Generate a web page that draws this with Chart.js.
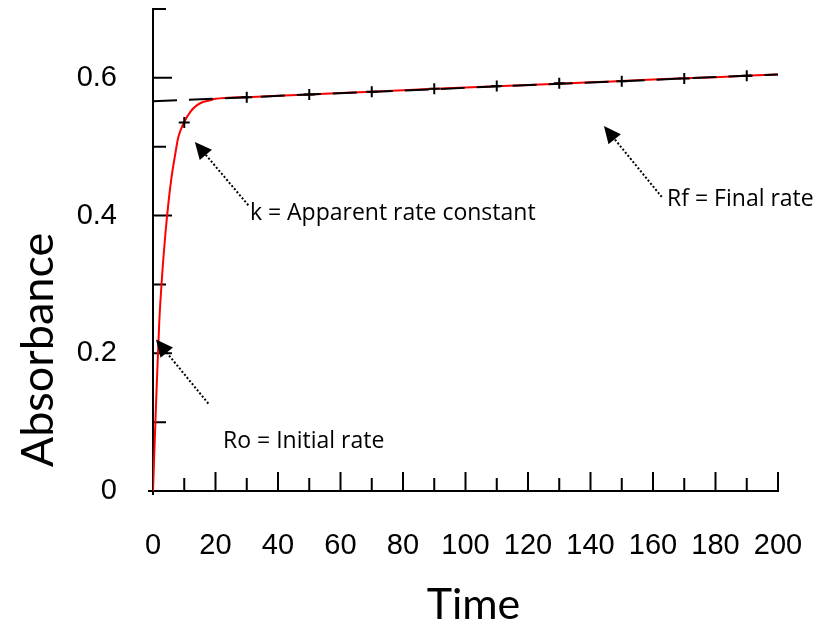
<!DOCTYPE html>
<html>
<head>
<meta charset="utf-8">
<style>
  html, body { margin: 0; padding: 0; background: #ffffff; }
  #wrap { width: 832px; height: 624px; }
</style>
<script src="https://cdn.jsdelivr.net/npm/chart.js@4.4.1/dist/chart.umd.min.js"></script>
</head>
<body>
<div id="wrap"><canvas id="c" width="832" height="624"></canvas></div>
<script>
// ---- Data ----
const curveTime = [0, 1, 2, 3, 4, 5, 6, 7, 8, 9, 10, 12, 14, 16, 18, 20, 24, 30, 40, 60, 80, 100, 120, 140, 160, 180, 200];
const curveAbs  = [0, 0.130, 0.245, 0.318, 0.375, 0.421, 0.458, 0.486, 0.512, 0.526, 0.536, 0.551, 0.560, 0.565, 0.567, 0.5695, 0.571, 0.572, 0.574, 0.578, 0.582, 0.586, 0.5895, 0.5935, 0.5975, 0.601, 0.605];

const markerTime = [10, 30, 50, 70, 90, 110, 130, 150, 170, 190];
const markerAbs  = [0.535, 0.572, 0.576, 0.580, 0.584, 0.588, 0.592, 0.595, 0.599, 0.603];

const finalRateTime = [0, 200];
const finalRateAbs  = [0.566, 0.605];

const xTickLabels = ['0', '20', '40', '60', '80', '100', '120', '140', '160', '180', '200'];
const yTickLabels = ['0', '0.2', '0.4', '0.6'];

const xTitle = 'Time';
const yTitle = 'Absorbance';

const annotationTexts  = ['Ro = Initial rate', 'k = Apparent rate constant', 'Rf = Final rate'];
const annotationTails  = [[17.7, 0.127], [30.5, 0.415], [162.8, 0.427]];
const annotationTips   = [[0.96, 0.220], [13.4, 0.507], [144.3, 0.530]];
const annotationLabels = [[22.4, 0.063], [31.0, 0.393], [164.5, 0.414]];

// ---- Build datasets ----
const toPts = (xs, ys) => xs.map((x, i) => ({ x: x, y: ys[i] }));

const TICK_FONT = { family: "'Liberation Sans', Arial, sans-serif", size: 29 };
const XTITLE_FONT = "43px Lato, 'Open Sans', sans-serif";
const YTITLE_FONT = "45px Lato, 'Open Sans', sans-serif";
const NOTE_FONT = "23px 'Open Sans', Lato, sans-serif";

const axesPlugin = {
  id: 'axesPlugin',
  beforeDatasetsDraw(chart) {
    const ctx = chart.ctx;
    const xs = chart.scales.x, ys = chart.scales.y;
    const x0 = xs.getPixelForValue(0), x1 = xs.getPixelForValue(200);
    const y0 = ys.getPixelForValue(0), y1 = ys.getPixelForValue(0.7);
    ctx.save();
    ctx.strokeStyle = '#000';
    ctx.lineWidth = 2;
    ctx.lineCap = 'butt';
    ctx.beginPath();
    // x axis
    ctx.moveTo(x0 - 5, y0); ctx.lineTo(x1 + 1, y0);
    // y axis
    ctx.moveTo(x0, y0 + 4); ctx.lineTo(x0, y1 - 1);
    // x tick marks (inside, upward)
    for (let i = 1; i <= 20; i++) {
      const px = xs.getPixelForValue(i * 10);
      const len = (i % 2 === 0) ? 19 : 13;
      ctx.moveTo(px, y0); ctx.lineTo(px, y0 - len);
    }
    // y tick marks (inside, rightward)
    for (let j = 1; j <= 7; j++) {
      const py = ys.getPixelForValue(j / 10);
      const len = (j % 2 === 0) ? 19 : 13;
      ctx.moveTo(x0, py); ctx.lineTo(x0 + len, py);
    }
    ctx.stroke();

    // axis titles
    ctx.fillStyle = '#000';
    ctx.textAlign = 'center';
    ctx.textBaseline = 'alphabetic';
    ctx.font = XTITLE_FONT;
    ctx.fillText(xTitle, (x0 + x1) / 2 + 8, 619);
    ctx.save();
    ctx.font = YTITLE_FONT;
    ctx.translate(53, (y0 + y1) / 2 + 100);
    ctx.rotate(-Math.PI / 2);
    ctx.fillText(yTitle, 0, 0);
    ctx.restore();
    ctx.restore();
  },
  afterDatasetsDraw(chart) {
    const ctx = chart.ctx;
    const xs = chart.scales.x, ys = chart.scales.y;
    ctx.save();
    for (let i = 0; i < annotationTexts.length; i++) {
      const tx = xs.getPixelForValue(annotationTails[i][0]);
      const ty = ys.getPixelForValue(annotationTails[i][1]);
      const hx = xs.getPixelForValue(annotationTips[i][0]);
      const hy = ys.getPixelForValue(annotationTips[i][1]);
      const ang = Math.atan2(hy - ty, hx - tx);
      const headLen = 17, headHalf = 8;
      const bx = hx - headLen * Math.cos(ang), by = hy - headLen * Math.sin(ang);
      // dotted shaft
      ctx.strokeStyle = '#000';
      ctx.lineWidth = 2;
      ctx.setLineDash([2, 2]);
      ctx.beginPath();
      ctx.moveTo(tx, ty); ctx.lineTo(bx, by);
      ctx.stroke();
      ctx.setLineDash([]);
      // head
      ctx.fillStyle = '#000';
      ctx.beginPath();
      ctx.moveTo(hx, hy);
      ctx.lineTo(bx + headHalf * Math.sin(ang), by - headHalf * Math.cos(ang));
      ctx.lineTo(bx - headHalf * Math.sin(ang), by + headHalf * Math.cos(ang));
      ctx.closePath();
      ctx.fill();
      // label
      ctx.font = NOTE_FONT;
      ctx.textAlign = 'left';
      ctx.textBaseline = 'alphabetic';
      ctx.fillText(annotationTexts[i],
        xs.getPixelForValue(annotationLabels[i][0]),
        ys.getPixelForValue(annotationLabels[i][1]));
    }
    ctx.restore();
  }
};

new Chart(document.getElementById('c'), {
  type: 'scatter',
  data: {
    datasets: [
      {
        label: 'Markers',
        data: toPts(markerTime, markerAbs),
        pointStyle: 'cross',
        pointRadius: 5.5,
        pointBorderWidth: 2,
        borderColor: '#000',
        backgroundColor: '#000',
        showLine: false,
        order: 0
      },
      {
        label: 'Final rate',
        data: toPts(finalRateTime, finalRateAbs),
        showLine: true,
        pointRadius: 0,
        borderColor: '#000',
        borderWidth: 2,
        borderDash: [24, 12],
        order: 1
      },
      {
        label: 'Absorbance',
        data: toPts(curveTime, curveAbs),
        showLine: true,
        pointRadius: 0,
        borderColor: '#ff0000',
        borderWidth: 2,
        cubicInterpolationMode: 'monotone',
        order: 2
      }
    ]
  },
  options: {
    responsive: false,
    animation: false,
    devicePixelRatio: 1,
    layout: { padding: { top: 9, right: 54, left: 0, bottom: 0 } },
    plugins: { legend: { display: false }, tooltip: { enabled: false } },
    scales: {
      x: {
        type: 'linear', min: 0, max: 200,
        border: { display: false },
        grid: { display: false, drawTicks: false },
        ticks: {
          stepSize: 20, autoSkip: false, maxRotation: 0, padding: 38,
          color: '#000', font: TICK_FONT,
          callback: (v) => xTickLabels[Math.round(v / 20)] ?? ''
        },
        afterFit: (s) => { s.height = 133; s.paddingLeft = 0; s.paddingRight = 0; }
      },
      y: {
        type: 'linear', min: 0, max: 0.7,
        border: { display: false },
        grid: { display: false, drawTicks: false },
        ticks: {
          stepSize: 0.1, autoSkip: false, padding: 36,
          color: '#000', font: TICK_FONT,
          callback: (v) => { const k = Math.round(v * 10); return k % 2 === 0 ? (yTickLabels[k / 2] ?? '') : ''; }
        },
        afterFit: (s) => { s.width = 153; s.paddingTop = 0; s.paddingBottom = 0; }
      }
    }
  },
  plugins: [axesPlugin]
});
</script>
</body>
</html>
